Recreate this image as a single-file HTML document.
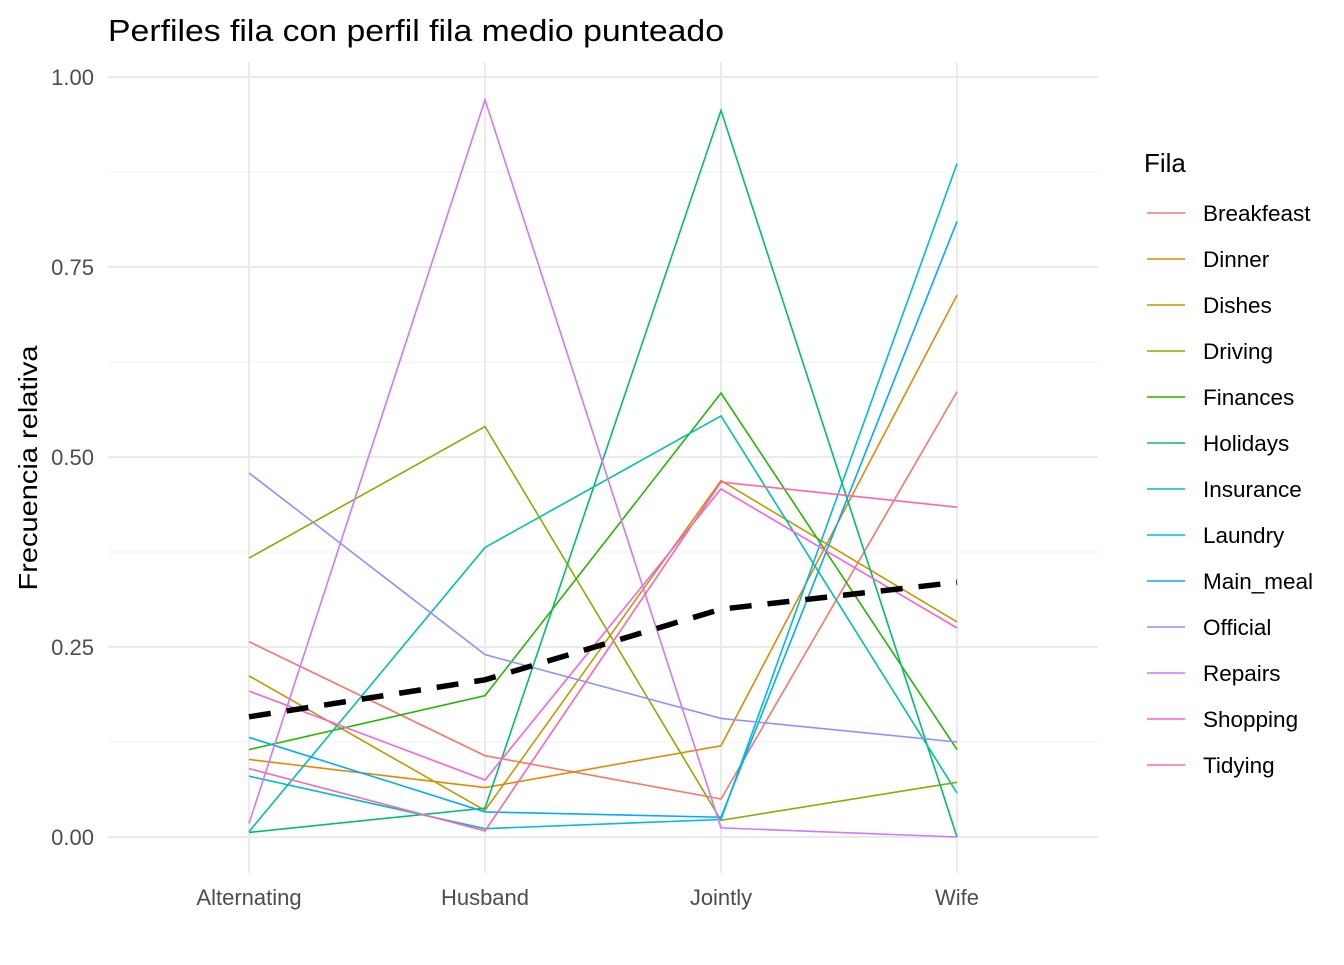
<!DOCTYPE html>
<html><head><meta charset="utf-8"><style>
html,body{margin:0;padding:0;background:#fff}
svg text{font-family:"Liberation Sans",Arial,sans-serif}
</style></head><body>
<svg id="chart" width="1344" height="960" viewBox="0 0 1344 960">
<rect width="1344" height="960" fill="#fff"/>
<text x="108" y="41" font-size="31" textLength="616" lengthAdjust="spacingAndGlyphs" fill="#000">Perfiles fila con perfil fila medio punteado</text>
<g id="grid"></g>
<g id="lines"></g>
<g id="axes"></g>
<text transform="translate(37,468) rotate(-90)" text-anchor="middle" font-size="26" textLength="245" lengthAdjust="spacingAndGlyphs" fill="#000">Frecuencia relativa</text>
<text x="1144" y="172" font-size="26" fill="#000">Fila</text>
<g id="legend"></g>
</svg>
<script>
const categories = ["Alternating","Husband","Jointly","Wife"];
const rowNames = ["Breakfeast","Dinner","Dishes","Driving","Finances","Holidays","Insurance","Laundry","Main_meal","Official","Repairs","Shopping","Tidying"];
const colors = ["#F8766D","#E18A00","#BE9C00","#8CAB00","#24B700","#00BE70","#00C1AB","#00BBDA","#00ACFC","#8B93FF","#D575FE","#F962DD","#FF65AC"];
const alternating = [0.257,0.102,0.212,0.367,0.115,0.006,0.007,0.080,0.131,0.479,0.018,0.192,0.090];
const husband     = [0.107,0.065,0.035,0.540,0.186,0.038,0.381,0.011,0.033,0.240,0.970,0.075,0.008];
const jointly     = [0.050,0.120,0.469,0.022,0.584,0.956,0.554,0.023,0.026,0.156,0.012,0.458,0.467];
const wife        = [0.586,0.713,0.283,0.072,0.115,0.000,0.058,0.886,0.810,0.125,0.000,0.275,0.434];
const yTicks = [0,0.25,0.5,0.75,1];
const yTickLabels = ["0.00","0.25","0.50","0.75","1.00"];

const NS="http://www.w3.org/2000/svg";
const x0=249, xStep=236, yZero=837, yScale=760;
const xPos=i=>x0+i*xStep;
const yPos=v=>yZero-v*yScale;
function mk(tag,attrs,parent){const e=document.createElementNS(NS,tag);for(const k in attrs)e.setAttribute(k,attrs[k]);parent.appendChild(e);return e;}
const grid=document.getElementById('grid'),lines=document.getElementById('lines'),axes=document.getElementById('axes'),legend=document.getElementById('legend');
for(let k=0;k<yTicks.length-1;k++){
  const m=(yTicks[k]+yTicks[k+1])/2;
  const g=mk('line',{x1:108,x2:1098,y1:yPos(m),y2:yPos(m),stroke:'#f2f2f2','stroke-width':1},grid);
  
  
}
yTicks.forEach((t,i)=>{
  const g=mk('line',{x1:108,x2:1098,y1:yPos(t),y2:yPos(t),stroke:'#ebebeb','stroke-width':2},grid);
  
  
  const tx=mk('text',{x:94,y:yPos(t)+8,'text-anchor':'end','font-size':22,fill:'#4d4d4d'},axes);
  tx.textContent=yTickLabels[i];
  
  
});
categories.forEach((c,i)=>{
  const g=mk('line',{x1:xPos(i),x2:xPos(i),y1:62,y2:873,stroke:'#ebebeb','stroke-width':2},grid);
  
  
  const tx=mk('text',{x:xPos(i),y:905,'text-anchor':'middle','font-size':22,fill:'#4d4d4d'},axes);
  tx.textContent=c;
  
  
});
const series=[alternating,husband,jointly,wife];
rowNames.forEach((r,j)=>{
  const pts=series.map((s,i)=>xPos(i)+','+yPos(s[j])).join(' ');
  const p=mk('polyline',{points:pts,fill:'none',stroke:colors[j],'stroke-width':1.6},lines);
  
  
  const ly=213+j*46;
  const kl=mk('line',{x1:1147,x2:1185,y1:ly,y2:ly,stroke:colors[j],'stroke-width':1.4},legend);
  
  
  const lt=mk('text',{x:1203,y:ly+8,'font-size':22.5,fill:'#000'},legend);
  lt.textContent=r;
  
  
});
const mean=series.map(s=>s.reduce((a,b)=>a+b,0)/s.length);
const mp=mk('polyline',{points:mean.map((v,i)=>xPos(i)+','+yPos(v)).join(' '),fill:'none',stroke:'#000','stroke-width':5.5,'stroke-dasharray':'22,16'},lines);


</script>
</body></html>
